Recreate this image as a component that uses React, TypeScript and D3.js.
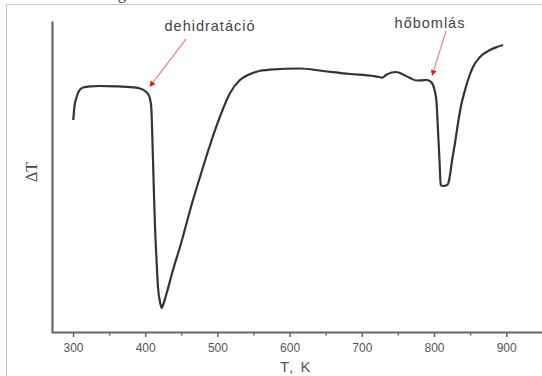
import React from "react";
import * as d3 from "d3";

const temps: number[] = [299.7, 301.4, 304.4, 307.6, 313.2, 322.9, 336.7, 357.5, 382.4, 392.1, 399, 403.2, 406, 407.8, 408.7, 410.1, 411.5, 412.9, 415, 417, 419.8, 422.2, 424, 429.1, 437.8, 447.5, 465.5, 475.2, 489.1, 502.9, 516.8, 530.6, 541.7, 553.7, 572.2, 613.7, 645.6, 683, 714.8, 723.1, 727.3, 732.8, 740.7, 746.7, 753.6, 766, 775.3, 782.7, 789.6, 795.2, 798, 800.7, 802.8, 804.8, 806.9, 808.6, 811.8, 816, 818.7, 821.5, 823.8, 828.4, 832.6, 836.7, 842.3, 847.8, 853.3, 863, 876.9, 886.6, 894.9];
const deltaT: number[] = [21.2, 22.6, 23.5, 24.1, 24.45, 24.57, 24.6, 24.57, 24.47, 24.35, 24.1, 23.8, 23.3, 22.4, 20.7, 17.2, 13.7, 10.5, 7.2, 4.5, 3.0, 2.4, 2.7, 3.9, 6.2, 8.5, 13.2, 15.5, 18.7, 21.53, 23.9, 25.2, 25.7, 26.03, 26.23, 26.35, 26.1, 25.8, 25.6, 25.5, 25.43, 25.7, 25.95, 26.0, 25.85, 25.4, 25.15, 25.17, 25.2, 25.0, 24.7, 24.0, 23.0, 20.2, 17.2, 14.7, 14.6, 14.65, 14.8, 15.7, 16.9, 18.9, 20.9, 22.6, 24.2, 25.5, 26.5, 27.5, 28.2, 28.5, 28.7];
const majorTicks: number[] = [300, 400, 500, 600, 700, 800, 900];
const minorTicks: number[] = [350, 450, 550, 650, 750, 850, 950];
const xTitle = "T, K";
const yTitle = "ΔT";
const ann1Label = "dehidratáció";
const ann2Label = "hőbomlás";

export default function App() {
  const W = 542, H = 376;
  const x0 = 73.5, pxPer100 = 72.2;
  const x = d3.scaleLinear().domain([300, 400]).range([x0, x0 + pxPer100]);
  const y = d3.scaleLinear().domain([0, 31]).range([332, 22]);
  const axisLeft = 52.5;
  const axisBottom = 332.5;
  const line = d3
    .line<number>()
    .x((_, i) => x(temps[i]))
    .y((d) => y(d))
    .curve(d3.curveMonotoneX);
  const path = line(deltaT) || "";

  const arrow = (x1: number, y1: number, x2: number, y2: number, key: string) => {
    const ang = Math.atan2(y2 - y1, x2 - x1);
    const L = 6, Wd = 3;
    const bx = x2 - L * Math.cos(ang), by = y2 - L * Math.sin(ang);
    const p1 = [bx + Wd * Math.sin(ang), by - Wd * Math.cos(ang)];
    const p2 = [bx - Wd * Math.sin(ang), by + Wd * Math.cos(ang)];
    return (
      <g key={key}>
        <line x1={x1} y1={y1} x2={bx} y2={by} stroke="#f28a8a" strokeWidth={1.3} />
        <polygon points={`${x2},${y2} ${p1[0]},${p1[1]} ${p2[0]},${p2[1]}`} fill="#e02020" />
      </g>
    );
  };

  return (
    <svg
      width={W}
      height={H}
      style={{ position: "absolute", left: 0, top: 0, background: "#fff" }}
      fontFamily="'Liberation Sans', Arial, sans-serif"
    >
      <rect x={0} y={0} width={W} height={H} fill="#fff" />
      <text x={118} y={-1} fontSize={16} fontFamily="'Liberation Serif', serif" fill="#333">g</text>
      <rect x={6.5} y={4.5} width={W} height={H} fill="none" stroke="#c8c8c8" strokeWidth={1} />
      <line x1={axisLeft} y1={21.5} x2={axisLeft} y2={axisBottom} stroke="#666" strokeWidth={2.2} />
      <line x1={axisLeft - 1} y1={axisBottom} x2={W} y2={axisBottom} stroke="#666" strokeWidth={2} />
      {majorTicks.map((t) => (
        <g key={"M" + t}>
          <line x1={x(t)} x2={x(t)} y1={axisBottom} y2={axisBottom + 4.5} stroke="#666" strokeWidth={1.5} />
          <text x={x(t)} y={352} textAnchor="middle" fontSize={12} fill="#555">{t}</text>
        </g>
      ))}
      {minorTicks.map((t) => (
        <line key={"m" + t} x1={x(t)} x2={x(t)} y1={axisBottom} y2={axisBottom + 3} stroke="#666" strokeWidth={1.5} />
      ))}
      <text x={296} y={372} textAnchor="middle" fontSize={15} letterSpacing={1.5} fill="#555">{xTitle}</text>
      <text
        transform="translate(37,172) rotate(-90)"
        textAnchor="middle"
        fontSize={16}
        fontFamily="'Liberation Serif', serif"
        fill="#444"
      >
        {yTitle}
      </text>
      <path d={path} fill="none" stroke="#333" strokeWidth={2.2} strokeLinejoin="round" />
      {arrow(186, 39, 149.5, 87, "a1")}
      {arrow(446, 31, 432, 76, "a2")}
      <text x={210} y={31} textAnchor="middle" fontSize={14.5} letterSpacing={1} fill="#444">{ann1Label}</text>
      <text x={430} y={28} textAnchor="middle" fontSize={14.5} letterSpacing={1} fill="#444">{ann2Label}</text>
    </svg>
  );
}
